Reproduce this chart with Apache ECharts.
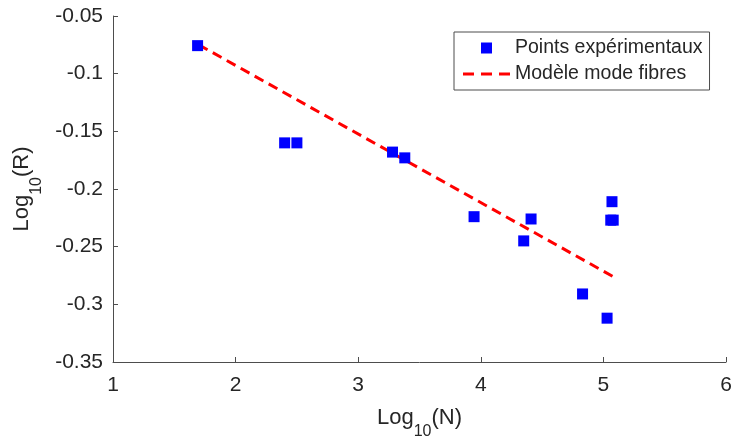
<!DOCTYPE html>
<html>
<head>
<meta charset="utf-8">
<script src="https://cdn.jsdelivr.net/npm/echarts@6/dist/echarts.min.js"></script>
<style>
html,body{margin:0;padding:0;background:#fff;}
#chart{width:736px;height:446px;}
</style>
</head>
<body>
<div id="chart"></div>
<script>
// Experimental points: [log10(N), log10(R)]
const pointsX = [1.69, 2.40, 2.50, 3.28, 3.38, 3.945, 4.41, 4.35, 5.07, 5.06, 5.08, 4.83, 5.03];
const pointsY = [-0.0757, -0.160, -0.160, -0.168, -0.173, -0.224, -0.226, -0.245, -0.211, -0.227, -0.227, -0.291, -0.312];
// Model line endpoints
const modelX = [1.70, 5.08];
const modelY = [-0.075, -0.276];
const seriesNames = ['Points expérimentaux', 'Modèle mode fibres'];
const xTicks = {min: 1, max: 6, interval: 1};
const yTicks = {min: -0.35, max: -0.05, interval: 0.05};

const font = '"Liberation Sans", Arial, Helvetica, sans-serif';
const textColor = '#262626';
const axisColor = '#4d4d4d';

const nameRich = {
  a: {fontFamily: font, fontSize: 22, color: textColor, lineHeight: 22},
  s: {fontFamily: font, fontSize: 16, color: textColor, padding: [28, 0, 0, 0]}
};

const chart = echarts.init(document.getElementById('chart'), null, {renderer: 'canvas'});
const option = {
  animation: false,
  backgroundColor: '#fff',
  grid: {left: 113, right: 10, top: 16, bottom: 84, containLabel: false},
  xAxis: {
    type: 'value', min: xTicks.min, max: xTicks.max, interval: xTicks.interval,
    name: '{a|Log}{s|10}{a|(N)}', nameLocation: 'middle', nameGap: 34,
    nameTextStyle: {rich: nameRich},
    axisLine: {show: true, lineStyle: {color: axisColor, width: 1}},
    axisTick: {show: true, inside: true, length: 5, lineStyle: {color: axisColor}},
    axisLabel: {fontFamily: font, fontSize: 21, color: textColor, margin: 13},
    splitLine: {show: false}
  },
  yAxis: {
    type: 'value', min: yTicks.min, max: yTicks.max, interval: yTicks.interval,
    name: '{a|Log}{s|10}{a|(R)}', nameLocation: 'middle', nameGap: 67, nameRotate: 90,
    nameTextStyle: {rich: nameRich},
    axisLine: {show: true, lineStyle: {color: axisColor, width: 1}},
    axisTick: {show: true, inside: true, length: 5, lineStyle: {color: axisColor}},
    axisLabel: {fontFamily: font, fontSize: 21, color: textColor, margin: 10, padding: [6, 0, 0, 0]},
    splitLine: {show: false}
  },
  legend: {
    left: 454, top: 32, orient: 'vertical',
    backgroundColor: '#fff', borderColor: '#4d4d4d', borderWidth: 1,
    padding: [6, 7, 6, 9], itemWidth: 47, itemHeight: 11, itemGap: 6,
    textStyle: {fontFamily: font, fontSize: 19.5, color: textColor, lineHeight: 20},
    data: [
      {name: seriesNames[0], icon: 'path://M0,0L10,0L10,10L0,10Z'},
      {name: seriesNames[1], icon: 'path://M0,0h11v3h-11z M18,0h11v3h-11z M36,0h11v3h-11z'}
    ]
  },
  series: [
    {
      name: seriesNames[1], type: 'line', z: 2,
      data: modelX.map((x, i) => [x, modelY[i]]),
      symbol: 'none',
      lineStyle: {color: '#ff0000', width: 3, type: [10, 6]},
      itemStyle: {color: '#ff0000'}
    },
    {
      name: seriesNames[0], type: 'scatter', z: 3,
      data: pointsX.map((x, i) => [x, pointsY[i]]),
      symbol: 'rect', symbolSize: 11,
      itemStyle: {color: '#0000ff', opacity: 1}
    }
  ]
};
chart.setOption(option);
</script>
</body>
</html>
